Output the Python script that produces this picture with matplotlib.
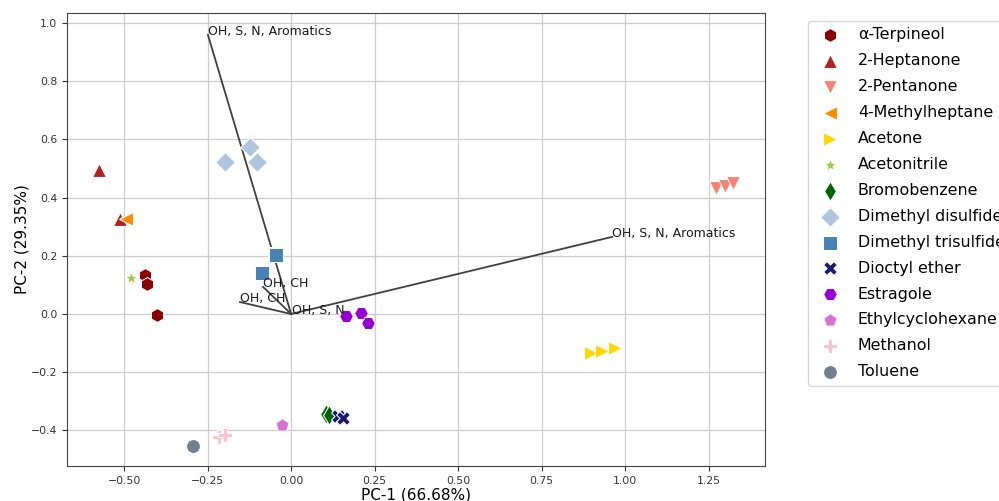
import matplotlib
matplotlib.use("Agg")
import matplotlib.pyplot as plt

# PCA scores, one entry per sample
compound = ["α-Terpineol", "α-Terpineol", "α-Terpineol",
            "2-Heptanone", "2-Heptanone", "2-Heptanone",
            "2-Pentanone", "2-Pentanone", "2-Pentanone",
            "4-Methylheptane", "4-Methylheptane",
            "Acetone", "Acetone", "Acetone",
            "Acetonitrile",
            "Bromobenzene", "Bromobenzene",
            "Dimethyl disulfide", "Dimethyl disulfide", "Dimethyl disulfide",
            "Dimethyl trisulfide", "Dimethyl trisulfide", "Dimethyl trisulfide",
            "Dioctyl ether", "Dioctyl ether",
            "Estragole", "Estragole", "Estragole",
            "Ethylcyclohexane",
            "Methanol", "Methanol",
            "Toluene"]
pc1 = [-0.437, -0.431, -0.401,
       -0.575, -0.515, -0.512,
       1.272, 1.299, 1.323,
       -0.491, -0.494,
       0.898, 0.931, 0.970,
       -0.479,
       0.105, 0.114,
       -0.198, -0.123, -0.102,
       -0.048, -0.087, -0.045,
       0.140, 0.156,
       0.165, 0.210, 0.231,
       -0.027,
       -0.216, -0.198,
       -0.293]
pc2 = [0.134, 0.103, -0.003,
       0.495, 0.323, 0.325,
       0.433, 0.440, 0.450,
       0.330, 0.326,
       -0.134, -0.127, -0.117,
       0.122,
       -0.344, -0.347,
       0.522, 0.574, 0.522,
       0.206, 0.141, 0.203,
       -0.350, -0.357,
       -0.007, 0.003, -0.031,
       -0.381,
       -0.423, -0.416,
       -0.454]

order = ["α-Terpineol", "2-Heptanone", "2-Pentanone", "4-Methylheptane",
         "Acetone", "Acetonitrile", "Bromobenzene", "Dimethyl disulfide",
         "Dimethyl trisulfide", "Dioctyl ether", "Estragole",
         "Ethylcyclohexane", "Methanol", "Toluene"]
colors = ["darkred", "firebrick", "salmon", "darkorange", "gold",
          "yellowgreen", "darkgreen", "lightsteelblue", "steelblue",
          "midnightblue", "darkviolet", "orchid", "pink", "slategray"]
markers = ["h", "^", "v", "<", ">", "*", "d", "D", "s", "X", "H", "p", "P", "o"]

# loading vectors
load_x = [-0.249, 0.961, -0.084, -0.153, 0.002]
load_y = [0.959, 0.265, 0.093, 0.041, 0.001]
load_labels = ["OH, S, N, Aromatics", "OH, S, N, Aromatics", "OH, CH", "OH, CH", "OH, S, N"]

fig = plt.figure(figsize=(9.99, 5.01), dpi=100)
ax = fig.add_axes([0.067, 0.070, 0.699, 0.904])

for name, c, m in zip(order, colors, markers):
    xs = [x for x, n in zip(pc1, compound) if n == name]
    ys = [y for y, n in zip(pc2, compound) if n == name]
    ax.scatter(xs, ys, c=c, marker=m, s=100, edgecolors="white",
               linewidths=0.75, label=name, zorder=3)

for lx, ly, lab in zip(load_x, load_y, load_labels):
    ax.plot([0, lx], [0, ly], color="#404040", lw=1.3, zorder=2)
    ax.text(lx, ly, lab, fontsize=9, color="#1a1a1a", zorder=4)

ax.set_xlim(-0.671, 1.419)
ax.set_ylim(-0.522, 1.034)
ax.set_xticks([-0.5, -0.25, 0, 0.25, 0.5, 0.75, 1.0, 1.25])
ax.set_yticks([-0.4, -0.2, 0, 0.2, 0.4, 0.6, 0.8, 1.0])
ax.tick_params(labelsize=7.8, colors="#333333")
ax.grid(True, color="#cccccc", lw=0.9, zorder=0)
ax.set_axisbelow(True)
for sp in ax.spines.values():
    sp.set_color("#444444")
ax.set_xlabel("PC-1 (66.68%)", fontsize=11, labelpad=1)
ax.set_ylabel("PC-2 (29.35%)", fontsize=11, labelpad=1)
ax.legend(loc="upper left", bbox_to_anchor=(1.05, 1), fontsize=11.4,
          labelspacing=0.69, handletextpad=0.75)

fig.savefig("out.png", dpi=100)
